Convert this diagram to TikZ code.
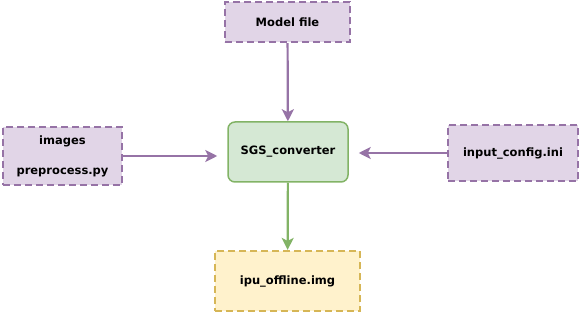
\documentclass[tikz,border=0pt]{standalone}
\usepackage{fontspec}
\setmainfont{DejaVu Sans}
\usetikzlibrary{arrows.meta,positioning}
\definecolor{purplefill}{HTML}{E1D5E7}
\definecolor{purpleline}{HTML}{9673A6}
\definecolor{greenfill}{HTML}{D5E8D4}
\definecolor{greenline}{HTML}{82B366}
\definecolor{yellowfill}{HTML}{FFF2CC}
\definecolor{yellowline}{HTML}{D6B656}

\begin{document}
\begin{tikzpicture}[
          x=1pt, y=-1pt,
          every node/.style={font=\fontsize{11.5}{14}\selectfont\bfseries},
          filebox/.style={draw=purpleline,fill=purplefill,line width=2.2pt,
                          dash pattern=on 7pt off 4pt,align=center,inner sep=0pt},
          convbox/.style={draw=greenline,fill=greenfill,line width=1.5pt,
                          rounded corners=7pt,align=center,inner sep=0pt},
          outbox/.style={draw=yellowline,fill=yellowfill,line width=2.2pt,
                         dash pattern=on 7pt off 4pt,align=center,inner sep=0pt},
          arr/.style={-{Stealth[length=12pt,width=12pt,inset=3pt]},line width=2.2pt,draw=purpleline},
          garr/.style={-{Stealth[length=12pt,width=12pt,inset=3pt]},line width=2.2pt,draw=greenline}
      ]
        \useasboundingbox (0,0) rectangle (582,315);
        \node[filebox,minimum width=125pt,minimum height=40pt] (model) at (287.5,22)
          {Model file};
        \node[convbox,minimum width=120pt,minimum height=60pt] (conv) at (288,152)
          {SGS\_converter};
        \node[filebox,minimum width=119pt,minimum height=58pt] (images) at (62.5,156)
          {images\\[16pt]preprocess.py};
        \node[filebox,minimum width=130pt,minimum height=56pt] (config) at (513,153)
          {input\_config.ini};
        \node[outbox,minimum width=145pt,minimum height=60pt] (img) at (287.5,281)
          {ipu\_offline.img};

        \draw[arr] (model) -- (conv);
        \draw[arr,shorten >=10pt] (images.east) -- (images.east -| conv.west);
        \draw[arr,shorten >=10pt] (config.west) -- (config.west -| conv.east);
        \draw[garr] (conv) -- (img);
      \end{tikzpicture}
\end{document}
